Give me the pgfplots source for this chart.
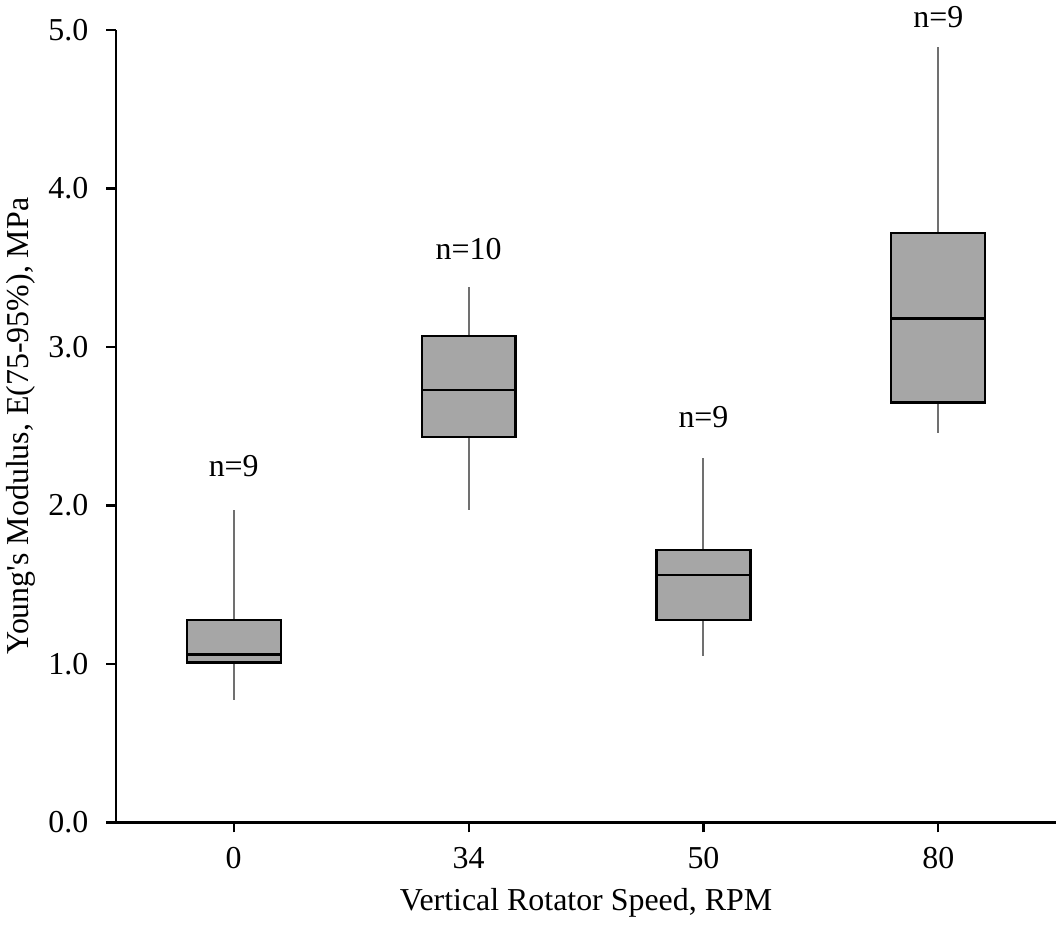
\documentclass[border=0pt]{standalone}
\usepackage{pgfplots}
\pgfplotsset{compat=1.18}
\usepgfplotslibrary{statistics}
\usepackage{fontspec}
\setmainfont{Liberation Serif}
\definecolor{boxgray}{HTML}{A6A6A6}
\definecolor{whiskgray}{HTML}{707070}
\begin{document}
\begin{tikzpicture}
\begin{axis}[
  scale only axis,
  width=469.5bp, height=396bp,
  xmin=-0.5, xmax=3.5, ymin=0, ymax=5,
  axis x line=bottom, axis y line=left,
  axis line style={-, line width=1.2pt},
  xtick={0,1,2,3}, xticklabels={0,34,50,80},
  ytick={0,1,2,3,4,5},
  yticklabel style={/pgf/number format/fixed,/pgf/number format/fixed zerofill,/pgf/number format/precision=1},
  /pgf/number format/assume math mode=true,
  tick align=outside,
  tick style={black, line width=1.1pt},
  major tick length=5bp,
  x tick label style={yshift=-4bp},
  y tick label style={xshift=-5.5bp},
  tick label style={font=\fontsize{16}{19}\selectfont},
  label style={font=\fontsize{16}{19}\selectfont},
  xlabel={Vertical Rotator Speed, RPM},
  ylabel={Young\textquotesingle s Modulus, E(75-95\%), MPa},
  xlabel style={yshift=-3bp},
  ylabel style={yshift=-0.5bp},
  clip=false,
  boxplot/draw direction=y,
  boxplot/box extend=0.4,
  boxplot/whisker extend=0,
  boxplot/every box/.style={draw=black, fill=boxgray, line width=1.1pt},
  boxplot/every whisker/.style={draw=whiskgray, line width=1pt},
  boxplot/every median/.style={draw=black, line width=1.1pt},
]
\addplot[boxplot prepared={draw position=0, lower whisker=0.77, lower quartile=1.01, median=1.06, upper quartile=1.28, upper whisker=1.97}] coordinates {};
\addplot[boxplot prepared={draw position=1, lower whisker=1.97, lower quartile=2.43, median=2.73, upper quartile=3.07, upper whisker=3.38}] coordinates {};
\addplot[boxplot prepared={draw position=2, lower whisker=1.05, lower quartile=1.28, median=1.56, upper quartile=1.72, upper whisker=2.30}] coordinates {};
\addplot[boxplot prepared={draw position=3, lower whisker=2.46, lower quartile=2.65, median=3.18, upper quartile=3.72, upper whisker=4.89}] coordinates {};
\node[font=\fontsize{16}{19}\selectfont] at (axis cs:0,2.25) {n=9};
\node[font=\fontsize{16}{19}\selectfont] at (axis cs:1,3.62) {n=10};
\node[font=\fontsize{16}{19}\selectfont] at (axis cs:2,2.56) {n=9};
\node[font=\fontsize{16}{19}\selectfont] at (axis cs:3,5.08) {n=9};
\draw[line width=1.2pt] ([xshift=-5bp]rel axis cs:0,0) -- (rel axis cs:0,0);
\end{axis}
\end{tikzpicture}
\end{document}
